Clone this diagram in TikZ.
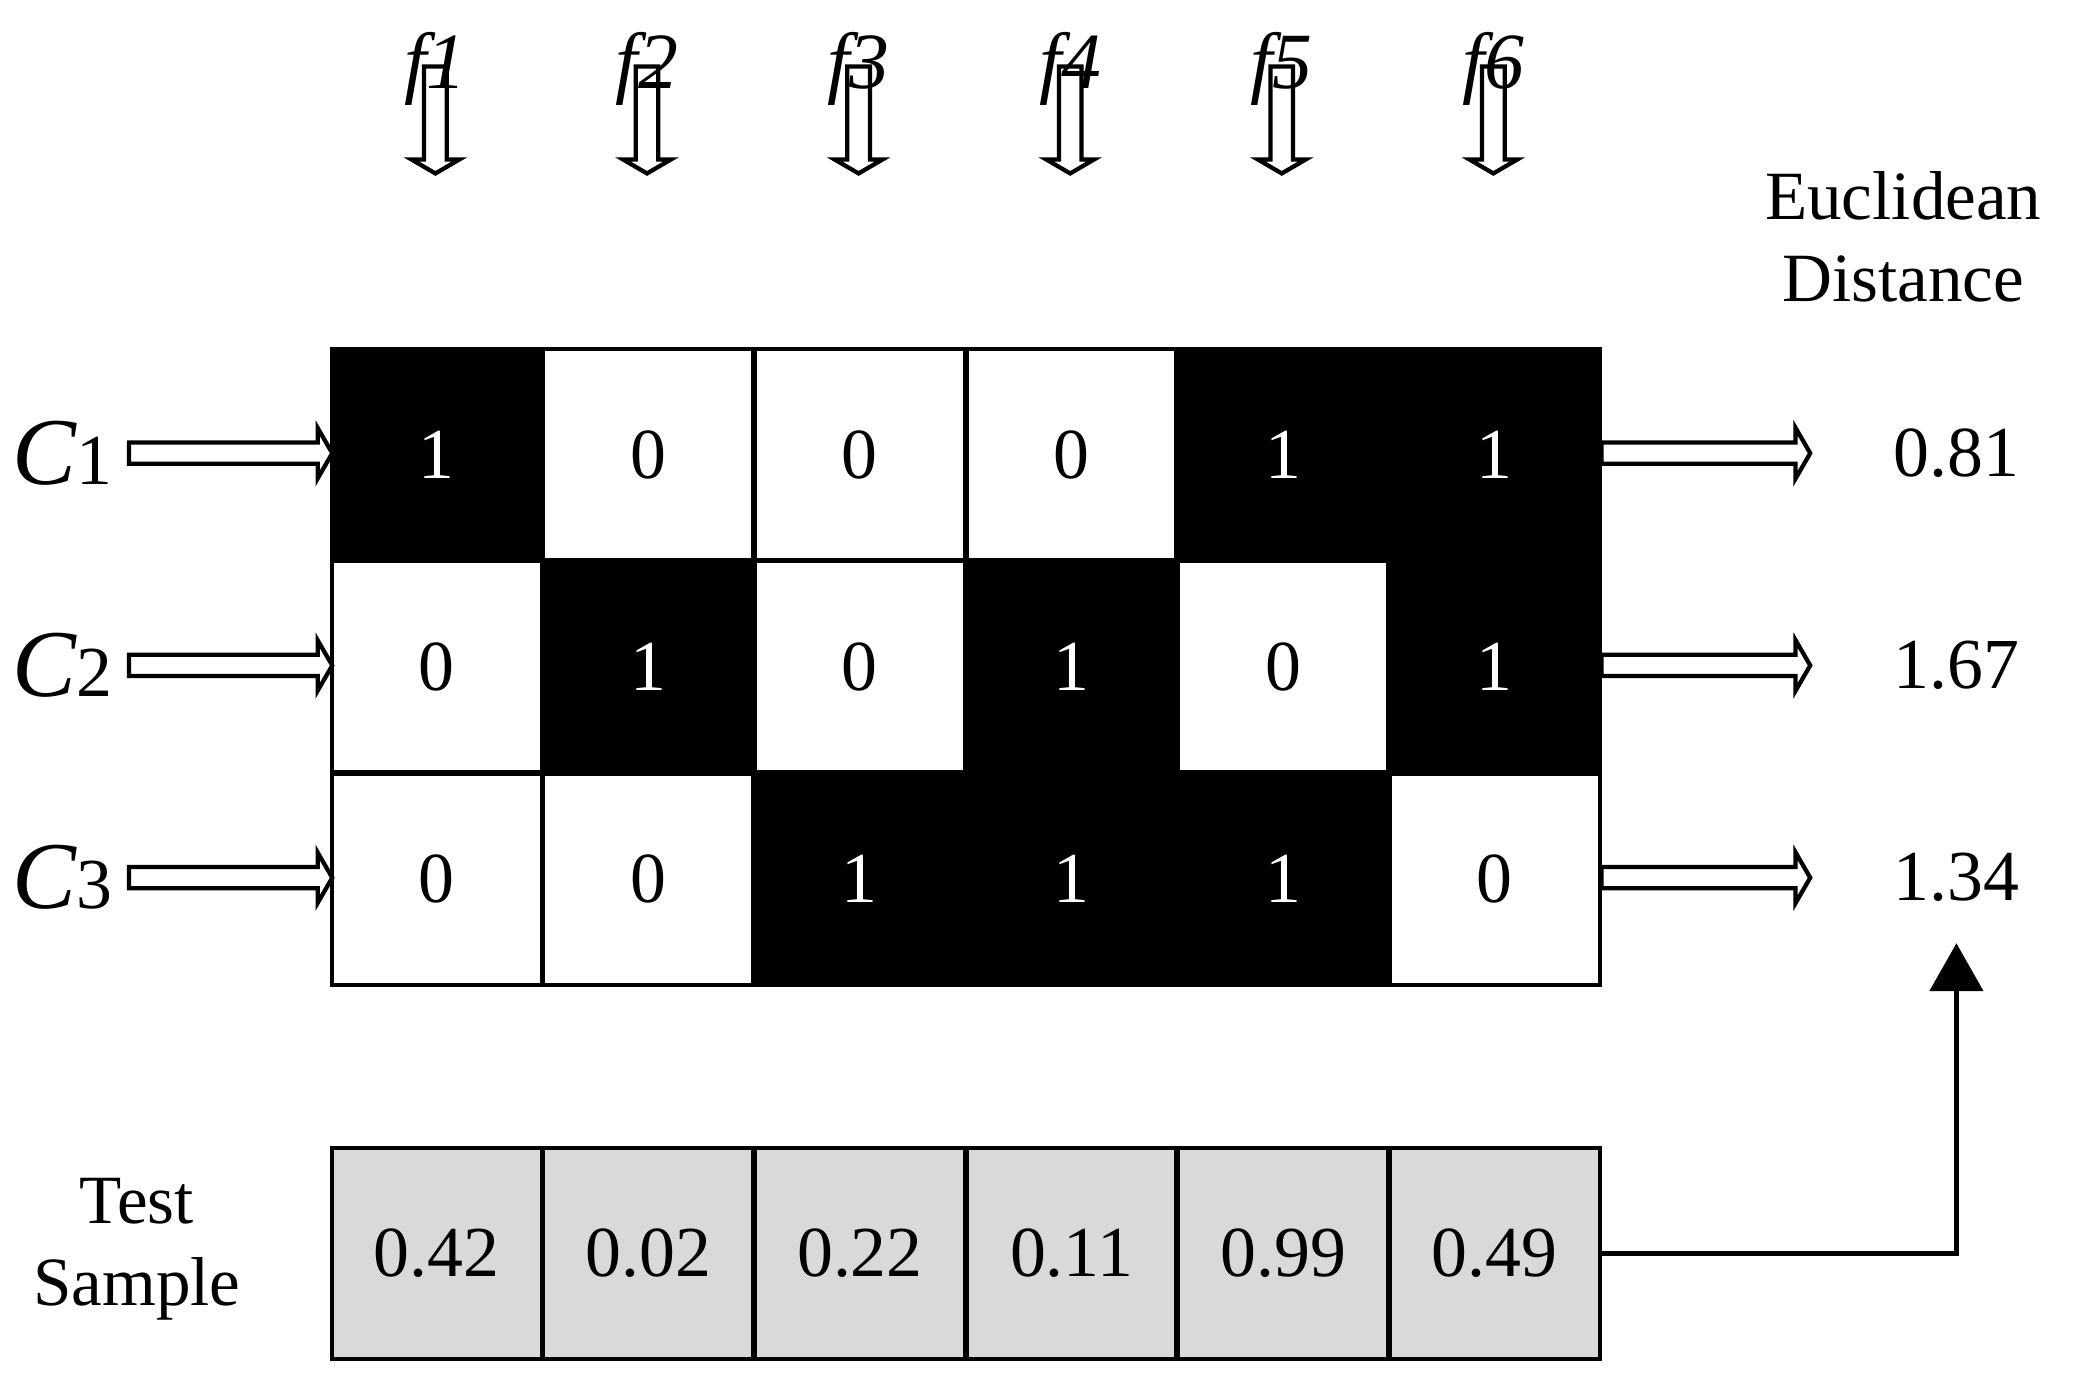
\documentclass[tikz,border=0pt]{standalone}
\usepackage{fontspec}
\setmainfont{Liberation Serif}
\usetikzlibrary{arrows.meta}
\tikzset{
  cell/.style={draw, line width=1.6pt, minimum width=79pt, minimum height=79.5pt, inner sep=0pt, anchor=north west, font=\fontsize{27}{30}\selectfont},
  one/.style={cell, fill=black, text=white},
  zero/.style={cell, fill=white},
  test/.style={cell, fill=black!15},
  hollow/.style={draw, line width=1.6pt, fill=white, line join=miter},
  lbl/.style={font=\fontsize{27}{32}\selectfont, align=center}
}
% hollow block arrows
\newcommand{\downarr}[1]{%
  \draw[hollow] (#1-8.5,50) -- (#1+8.5,50) -- (#1+8.5,120) -- (#1+18,120)
    -- (#1,130.5) -- (#1-18,120) -- (#1-8.5,120) -- cycle;}
\newcommand{\rightarr}[3]{%
  \draw[hollow] (#1,#3-8) -- (#2-11,#3-8) -- (#2-11,#3-19) -- (#2,#3)
    -- (#2-11,#3+19) -- (#2-11,#3+8) -- (#1,#3+8) -- cycle;}
\begin{document}
\begin{tikzpicture}[x=0.5pt, y=-0.5pt]
    \useasboundingbox (0,0) rectangle (1568,1037);
    % matrix
    \foreach \row [count=\r] in {{1,0,0,0,1,1},{0,1,0,1,0,1},{0,0,1,1,1,0}}
      \foreach \v [count=\c] in \row {
        \ifnum\v=1
          \node[one] (c\r\c) at ({248+159.2*(\c-1)},{261+159.7*(\r-1)}) {\v};
        \else
          \node[zero] (c\r\c) at ({248+159.2*(\c-1)},{261+159.7*(\r-1)}) {\v};
        \fi
      }
    % feature arrows
    \foreach \i in {1,...,6} {
      \pgfmathsetmacro\xc{327.6+159.2*(\i-1)}
      \downarr{\xc}
      \node[font=\fontsize{30}{34}\selectfont\itshape] (f\i) at (\xc,52) {f\i};
    }
    % classes and distances
    \foreach \d [count=\r] in {0.81,1.67,1.34} {
      \pgfmathsetmacro\yc{341+159.7*(\r-1)}
      \node[font=\fontsize{36}{40}\selectfont] (cl\r) at (47,\yc) {\textit{C}\fontsize{27}{30}\selectfont\r};
      \rightarr{97}{250}{\yc}
      \rightarr{1205}{1362}{\yc}
      \node[lbl] (d\r) at (1472,\yc) {\d};
    }
    \node[lbl, font=\fontsize{26}{31}\selectfont] (ed) at (1432,178) {Euclidean\\Distance};
    % test sample
    \foreach \v [count=\c] in {0.42,0.02,0.22,0.11,0.99,0.49}
      \node[test] (t\c) at ({248+159.2*(\c-1)},862) {\v};
    \node[lbl, font=\fontsize{26}{31}\selectfont] (ts) at (103,940) {Test\\Sample};
    \draw[line width=1.6pt, -{Triangle[width=20pt, length=18pt]}] (t6.east) -| ([yshift=-12pt]d3.south);
\end{tikzpicture}
\end{document}
